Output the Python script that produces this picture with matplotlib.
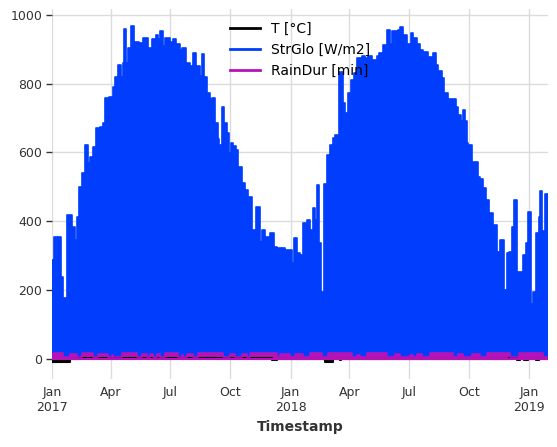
import matplotlib
matplotlib.use("Agg")
import matplotlib.pyplot as plt
import numpy as np

# StrGlo envelope: daily peak values, day = days since 2017-01-01
glo_day = [0, 3, 8, 9, 14, 17, 23, 31, 35, 38, 41, 46, 50, 55, 58, 63, 67, 73, 77, 78,
           81, 86, 87, 93, 96, 101, 106, 109, 110, 113, 115, 116, 121, 125, 133, 138, 139,
           147, 153, 159, 162, 165, 170, 173, 181, 185, 190, 196, 199, 205, 206, 211, 216,
           220, 221, 226, 230, 233, 237, 242, 245, 249, 254, 255, 260, 263, 268, 271, 274,
           277, 282, 285, 291, 295, 300, 306, 311, 312, 318, 320, 321, 326, 332, 333, 340,
           344, 350, 352, 356, 357, 367, 370, 375, 379, 384, 390, 395, 399, 402, 405, 409,
           412, 416, 421, 425, 430, 433, 439, 445, 448, 453, 457, 462, 467, 474, 479, 483,
           490, 494, 497, 500, 506, 513, 517, 520, 528, 529, 532, 537, 543, 549, 552, 558,
           563, 568, 575, 581, 583, 588, 591, 597, 600, 606, 607, 618, 621, 626, 629, 632,
           635, 636, 643, 652, 655, 659, 664, 665, 669, 675, 681, 685, 686, 692, 696, 699,
           704, 707, 711, 712, 719, 720, 725, 728, 733, 736, 741, 745, 747, 750, 754, 759]
glo_peak = [288, 355, 209, 355, 238, 177, 419, 384, 346, 413, 500, 541, 622, 570, 587, 616,
            671, 675, 520, 686, 758, 741, 760, 791, 820, 855, 820, 860, 959, 860, 830, 904,
            968, 921, 918, 904, 933, 904, 930, 942, 930, 953, 910, 933, 921, 930, 915, 898,
            904, 700, 860, 851, 889, 680, 851, 822, 886, 820, 773, 754, 758, 686, 640, 622,
            733, 686, 657, 599, 628, 618, 608, 558, 511, 492, 471, 375, 200, 442, 340, 200,
            375, 355, 180, 366, 326, 322, 270, 322, 180, 317, 279, 351, 307, 302, 395, 404,
            375, 439, 404, 506, 337, 195, 508, 593, 622, 642, 651, 834, 744, 715, 773, 811,
            831, 875, 879, 875, 879, 870, 870, 879, 889, 913, 956, 916, 953, 700, 956, 965,
            942, 916, 947, 933, 916, 898, 893, 878, 845, 888, 855, 836, 817, 773, 520, 755,
            733, 709, 690, 724, 690, 628, 622, 573, 529, 524, 497, 250, 462, 424, 390, 311,
            180, 346, 200, 308, 311, 384, 462, 180, 253, 170, 302, 337, 427, 160, 195, 366,
            413, 488, 371, 480, 480]

# T [°C]: rough daily minimum / maximum at change points
t_day = [0, 28, 40, 330, 336, 345, 350, 418, 430, 440, 443, 700, 712, 716, 722, 728, 740, 745, 759]
t_min = [-9, -2, 1, 2, -3, -1, 0, -9, -2, -4, 0, 1, -3, 0, -4, -1, -5, -2, -2]
t_max = [5, 10, 15, 12, 8, 8, 8, 5, 10, 12, 15, 10, 6, 8, 6, 8, 5, 6, 6]

# RainDur [min]: rainy spells (start day, end day, peak)
rain_start = [2, 28, 46, 70, 92, 107, 138, 150, 161, 173, 199, 207, 223, 272, 291, 303,
              349, 372, 395, 422, 467, 482, 525, 548, 558, 578, 621, 643, 666, 714]
rain_end = [17, 38, 63, 86, 93, 130, 145, 155, 165, 193, 200, 216, 262, 280, 298, 344,
            364, 384, 413, 459, 471, 513, 532, 552, 566, 614, 629, 655, 701, 752]
rain_peak = [16, 15, 16, 15, 12, 16, 14, 13, 14, 16, 10, 15, 16, 14, 13, 16,
             15, 14, 16, 16, 12, 16, 14, 12, 13, 16, 14, 14, 16, 16]
rain_base = 6

ticks = ['2017-01-01', '2017-04-01', '2017-07-01', '2017-10-01', '2018-01-01',
         '2018-04-01', '2018-07-01', '2018-10-01', '2019-01-01']
tick_labels = ['Jan\n2017', 'Apr', 'Jul', 'Oct', 'Jan\n2018', 'Apr', 'Jul', 'Oct', 'Jan\n2019']

start = np.datetime64('2017-01-01')
to_date = lambda d: start + np.array(d).astype('timedelta64[D]')

blue = '#003DFD'
black = '#000000'
pink = '#B512B8'

fig = plt.figure(figsize=(5.57, 4.47), dpi=100)
ax = fig.add_axes([52 / 557, 1 - 379 / 447, 496 / 557, 370 / 447])

# T
td = to_date(t_day)
ax.fill_between(td, t_min, t_max, step='post', color=black, lw=0)
ax.plot(td, t_min, drawstyle='steps-post', color=black, lw=1.5, label='T [°C]')

# StrGlo
gd = to_date(glo_day)
ax.fill_between(gd, 0, glo_peak, step='post', color=blue, lw=0)
ax.plot(gd, glo_peak, drawstyle='steps-post', color=blue, lw=1.2, label='StrGlo [W/m2]')

# RainDur: step series built from the spells
rx, ry = [0], [rain_base]
for s, e, p in zip(rain_start, rain_end, rain_peak):
    rx += [s, e]
    ry += [p, rain_base]
rx.append(glo_day[-1])
ry.append(rain_base)
rd = to_date(rx)
ax.fill_between(rd, 0, ry, step='post', color=pink, lw=0)
ax.plot(rd, ry, drawstyle='steps-post', color=pink, lw=1.2, label='RainDur [min]')
ax.plot(to_date([0, glo_day[-1]]), [0, 0], color=pink, lw=1.5)

ax.set_xlim(to_date(0), to_date(glo_day[-1]))
ax.set_ylim(-59, 1017)
ax.set_yticks(range(0, 1001, 200))
ax.set_xticks(np.array(ticks, dtype='datetime64[D]'))
ax.set_xticklabels(tick_labels)

ax.grid(True, color='#dcdcdc', lw=1)
ax.set_axisbelow(True)
for sp in ax.spines.values():
    sp.set_visible(False)
ax.tick_params(axis='x', length=0, labelsize=9, colors='#333333', pad=5)
ax.tick_params(axis='y', length=4, width=1, labelsize=9, colors='#333333', pad=3)
ax.set_xlabel('Timestamp', fontsize=10, fontweight='bold', color='#333333', labelpad=4)

leg = ax.legend(loc='upper center', frameon=False, fontsize=10, handlelength=2.2)
for line in leg.get_lines():
    line.set_linewidth(2)

fig.savefig('out.png', dpi=100)
